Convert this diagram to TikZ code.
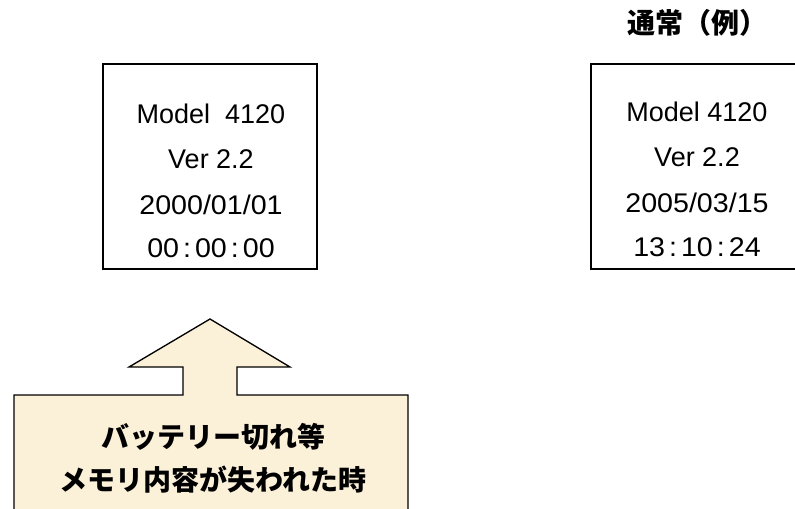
\documentclass[tikz,border=0pt]{standalone}
\usepackage{fontspec}
\setmainfont{Liberation Sans}
\newfontfamily\jpfont{Noto Sans CJK JP}
\definecolor{cream}{RGB}{251,240,216}
\newcommand{\cln}{\kern.14em:\kern.14em}
\newcommand{\widen}[1]{\scalebox{1.06}[1]{#1}}
\tikzset{
  panel/.style={draw=black, line width=1.2pt, anchor=north west, inner sep=0pt,
                minimum width=160.5pt, minimum height=153.75pt},
  lbl/.style={anchor=base, inner sep=0pt, font=\fontsize{20.25pt}{24pt}\selectfont},
  jptext/.style={anchor=center, inner sep=0pt, font=\jpfont\bfseries\fontsize{21pt}{25pt}\selectfont},
  callout/.style={draw=black, line width=1pt, fill=cream, line join=miter}
}
\begin{document}
\begin{tikzpicture}[x=0.75pt,y=-0.75pt]
\useasboundingbox (0,0) rectangle (795,508);
\clip (0,0) rectangle (795,508);
% title
\node[jptext] (title) at (697,23) {通常（例）};
% left box
\node[panel] (lbox) at (102,63) {};
\node[lbl] (l1) at (211,123) {Model\ \ 4120};
\node[lbl] (l2) at (211,168) {Ver 2.2};
\node[lbl] (l3) at (211,214) {\widen{2000/01/01}};
\node[lbl] (l4) at (211,257) {\widen{00\cln00\cln00}};
% right box
\node[panel] (rbox) at (590,63) {};
\node[lbl] (r1) at (697,121) {Model 4120};
\node[lbl] (r2) at (697,166) {Ver 2.2};
\node[lbl] (r3) at (697,212) {\widen{2005/03/15}};
\node[lbl] (r4) at (697,256) {\widen{13\cln10\cln24}};
% callout arrow
\draw[callout] (14,395) -- (183,395) -- (183,367) -- (129,367) -- (210,319)
  -- (290,367) -- (237,367) -- (237,395) -- (408,395) -- (408,520) -- (14,520) -- cycle;
\node[jptext] (c1) at (213,437) {バッテリー切れ等};
\node[jptext] (c2) at (213,480) {メモリ内容が失われた時};
\end{tikzpicture}
\end{document}
